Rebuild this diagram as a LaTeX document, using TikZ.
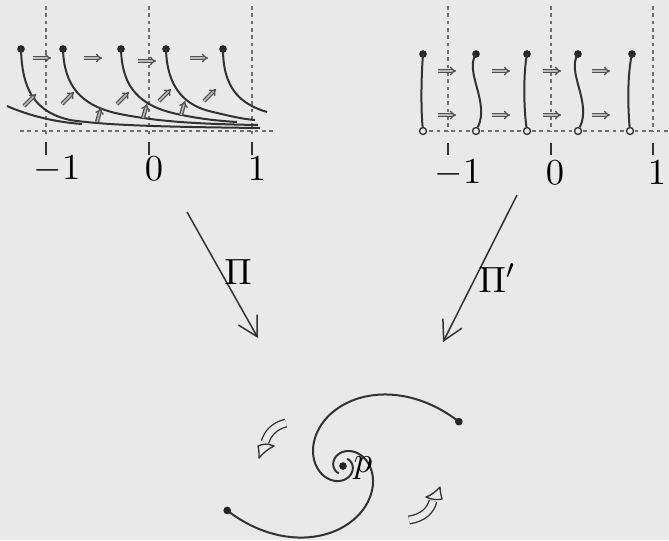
\documentclass[tikz,border=0pt]{standalone}
\usetikzlibrary{arrows.meta}
\definecolor{bg}{RGB}{233,233,233}
\definecolor{ink}{RGB}{50,50,50}
\definecolor{arr}{RGB}{80,80,80}
\definecolor{dotc}{RGB}{110,110,110}
\begin{document}
\begin{tikzpicture}[x=0.3pt,y=-0.3pt,
  curve/.style={ink, line width=0.6pt},
  guide/.style={dotc, line width=0.45pt, dash pattern=on 1.1pt off 1.1pt},
  tickmark/.style={ink, line width=0.45pt},
  fdot/.style={circle, fill=black!85, inner sep=0pt, minimum size=2.3pt},
  odot/.style={circle, draw=ink, fill=bg, line width=0.4pt, inner sep=0pt, minimum size=2.1pt},
  flow/.style={arr, line width=0.4pt, double=arr!30!bg, double distance=0.45pt, -{Implies}},
  lbl/.style={font=\fontsize{10.95}{12}\selectfont, inner sep=0pt},
  bigarrow/.style={ink, line width=0.45pt, -{Straight Barb[length=5.8pt,width=6.4pt]}},
  rot/.style={ink, line width=0.4pt, double=bg, double distance=1.9pt},
  rothead/.style={ink, line width=0.4pt, fill=bg, line join=round}]
\fill[bg] (0,0) rectangle (669,540);
\useasboundingbox (0,0) rectangle (669,540);

% ---------- left panel ----------
\foreach \x in {46,149,252} {
  \draw[guide] (\x,6) -- (\x,134);
  \draw[tickmark] (\x,142) -- (\x,155);
}
\draw[guide] (20,131) -- (275,131);
\node[lbl] (lm1) at (57,169) {$-1$};
\node[lbl] (l0) at (154,169) {$0$};
\node[lbl] (l1) at (257,169) {$1$};

\node[fdot] (a1) at (21,49) {};
\node[fdot] (a2) at (63,49) {};
\node[fdot] (a3) at (121,49) {};
\node[fdot] (a4) at (166,49) {};
\node[fdot] (a5) at (223,49) {};
\draw[curve] (7,106) .. controls (30,116) and (55,122) .. (82,124);
\draw[curve] (a1.center) .. controls (22,90) and (35,112) .. (70,120) .. controls (110,126) and (180,127) .. (260,128);
\draw[curve] (a2.center) .. controls (64,85) and (80,106) .. (120,114) .. controls (160,122) and (200,124) .. (258,125);
\draw[curve] (a3.center) .. controls (122,88) and (140,106) .. (177,114) .. controls (200,119) and (220,121) .. (237,122);
\draw[curve] (a4.center) .. controls (167,88) and (185,106) .. (213,112) .. controls (230,116) and (242,119) .. (255,120);
\draw[curve] (a5.center) .. controls (223,88) and (240,104) .. (267,112);

\foreach \x/\y in {42/58, 93/58, 147/61, 199/58}
  \draw[flow] (\x-9,\y) -- (\x+9,\y);
\foreach \x/\y in {30/100, 68/98, 123/98, 165/95, 210/95}
  \draw[flow] (\x-6,\y+6) -- (\x+6,\y-6);
\foreach \x/\y in {99/115, 145/111, 183/108}
  \draw[flow] (\x-2,\y+7) -- (\x+2,\y-7);

% ---------- right panel ----------
\foreach \x in {448,551,653} {
  \draw[guide] (\x,6) -- (\x,131);
  \draw[tickmark] (\x,143) -- (\x,155);
}
\draw[guide] (422,131) -- (669,131);
\node[lbl] (rm1) at (458,173) {$-1$};
\node[lbl] (r0) at (555,173) {$0$};
\node[lbl] (r1) at (657,173) {$1$};

\node[fdot] (b1) at (423,54) {};
\node[fdot] (b2) at (476,54) {};
\node[fdot] (b3) at (527,54) {};
\node[fdot] (b4) at (578,54) {};
\node[fdot] (b5) at (632,54) {};
\node[odot] (c1) at (423,131) {};
\node[odot] (c2) at (476,131) {};
\node[odot] (c3) at (527,131) {};
\node[odot] (c4) at (578,131) {};
\node[odot] (c5) at (630,131) {};
\draw[curve] (b1.center) .. controls (421,80) and (421,110) .. (c1);
\draw[curve] (b2.center) .. controls (464,72) and (490,102) .. (c2);
\draw[curve] (b3.center) .. controls (523,75) and (524,110) .. (c3);
\draw[curve] (b4.center) .. controls (566,72) and (592,102) .. (c4);
\draw[curve] (b5.center) .. controls (627,75) and (628,110) .. (c5);

\foreach \x in {447,501,552,601} {
  \draw[flow] (\x-9,71) -- (\x+9,71);
  \draw[flow] (\x-9,115) -- (\x+9,115);
}

% ---------- projections ----------
\coordinate (pa) at (187,212);
\coordinate (pb) at (258,338);
\coordinate (qa) at (517,195);
\coordinate (qb) at (443,342);
\draw[bigarrow] (pa) -- (pb);
\draw[bigarrow] (qa) -- (qb);
\node[lbl] (pil) at (238,272) {$\Pi$};
\node[lbl] (pil2) at (497,278) {$\Pi'$};

% ---------- spiral ----------
\begin{scope}[shift={(343,466)}, yscale=-1]
  \draw[curve] plot[domain=21:420, samples=150, smooth, variable=\t]
    ({(7+117*exp(-0.0112*(\t-21)))*cos(\t)}, {(7+117*exp(-0.0112*(\t-21)))*sin(\t)});
  \begin{scope}[rotate=180]
  \draw[curve] plot[domain=21:420, samples=150, smooth, variable=\t]
    ({(7+117*exp(-0.0112*(\t-21)))*cos(\t)}, {(7+117*exp(-0.0112*(\t-21)))*sin(\t)});
  \end{scope}
\end{scope}
\node[fdot] (s1) at (458.8,421.6) {};
\node[fdot] (s2) at (227.2,510.4) {};
\node[fdot] (p) at (343,466) {};
\node[lbl] (plbl) at (363,468) {$p$};

% rotation arrows (hollow)
\draw[rot] (286,423) .. controls (274,426) and (268,433) .. (265,442);
\draw[rothead] (258,446) .. controls (262,444) and (268,443) .. (274,446)
  .. controls (268,449) and (263,453) .. (259,458)
  .. controls (259,453) and (259,449) .. cycle;
\draw[rot] (409,520) .. controls (423,518) and (431,510) .. (433,501);
\draw[rothead] (442,499) .. controls (438,500) and (432,500) .. (426,497)
  .. controls (432,495) and (436,491) .. (440,487)
  .. controls (440,491) and (441,495) .. cycle;
\end{tikzpicture}
\end{document}
